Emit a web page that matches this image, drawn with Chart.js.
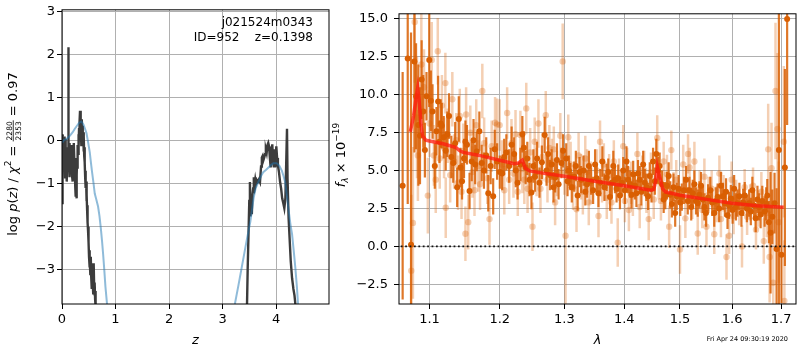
<!DOCTYPE html>
<html>
<head>
<meta charset="utf-8">
<script src="https://cdn.jsdelivr.net/npm/chart.js@4.4.0/dist/chart.umd.min.js"></script>
<style>
  html, body { margin: 0; padding: 0; background: #fff; }
  #wrap { position: relative; width: 800px; height: 350px; overflow: hidden; }
  canvas { position: absolute; top: 0; }
  #pz { left: 0; }
  #spec { left: 325px; }
</style>
</head>
<body>
<div id="wrap">
  <canvas id="pz" width="335" height="350"></canvas>
  <canvas id="spec" width="475" height="350"></canvas>
</div>
<script>
// ---- redshift panel: log p(z) ----
const zTicks = [0, 1, 2, 3, 4];
const logpTicks = [-3, -2, -1, 0, 1, 2, 3];

// noisy p(z) from the fit (null breaks the curve between the two peaks)
const pzZ = [
  0.000, 0.004, 0.008, 0.013, 0.018, 0.023, 0.028, 0.033, 0.038, 0.043,
  0.048, 0.053, 0.058, 0.063, 0.068, 0.073, 0.078, 0.083, 0.088, 0.093,
  0.098, 0.103, 0.108, 0.113, 0.117, 0.121, 0.126, 0.131, 0.136, 0.141,
  0.146, 0.151, 0.157, 0.163, 0.169, 0.175, 0.181, 0.187, 0.193, 0.199,
  0.205, 0.211, 0.217, 0.223, 0.229, 0.235, 0.241, 0.247, 0.253, 0.259,
  0.265, 0.271, 0.277, 0.283, 0.289, 0.295, 0.301, 0.307, 0.313, 0.319,
  0.325, 0.331, 0.337, 0.343, 0.349, 0.355, 0.361, 0.367, 0.373, 0.379,
  0.385, 0.391, 0.397, 0.403, 0.409, 0.415, 0.421, 0.427, 0.433, 0.439,
  0.445, 0.451, 0.457, 0.463, 0.469, 0.475, 0.481, 0.487, 0.493, 0.499,
  0.505, 0.511, 0.517, 0.523, 0.529, 0.535, 0.541, 0.547, 0.553, 0.559,
  0.565, 0.571, 0.577, 0.583, 0.589, 0.595, 0.601, 0.607, 0.613, 0.619,
  0.625, 0.631, 0.640, 0.660,
  2.000,
  3.440, 3.470, 3.500, 3.512, 3.522, 3.535, 3.548, 3.560, 3.572, 3.585,
  3.598, 3.612, 3.625, 3.640, 3.655, 3.680, 3.700, 3.720, 3.735, 3.750,
  3.765, 3.780, 3.795, 3.810, 3.825, 3.840, 3.855, 3.870, 3.885, 3.900,
  3.915, 3.930, 3.945, 3.960, 3.975, 3.990, 4.005, 4.020, 4.035, 4.055,
  4.075, 4.095, 4.115, 4.135, 4.155, 4.175, 4.205, 4.215, 4.235, 4.255,
  4.275, 4.300, 4.325, 4.345, 4.365, 4.390, 4.420
];
const pzLogP = [
  -1.45, -0.30, 0.15, -0.55, 0.12, -0.40, 0.05, -0.70, -0.10, 0.10,
  -0.50, -0.20, -0.85, -0.30, 0.05, -0.60, -0.15, -0.75, -0.40, -0.95,
  -0.55, -0.20, -0.65, -0.30, 2.18, -0.35, -0.70, -0.15, -0.85, -0.45,
  -0.05, -0.60, -0.25, -0.75, -0.10, -0.55, -0.30, -0.80, -0.45, -0.95,
  -0.60, -0.20, -0.50, -0.05, -0.40, -0.85, -0.60, -1.05, -0.70, -1.30,
  -0.95, -1.34, -0.80, -0.40, -0.65, -0.10, -0.30, 0.15, -0.15, 0.30,
  0.05, 0.45, 0.70, 0.30, 0.05, 0.45, -0.10, 0.25, 0.50, 0.10,
  0.35, -0.05, 0.20, -0.25, 0.10, -0.35, -0.15, -0.50, -0.85, -0.70,
  -1.10, -0.95, -1.40, -1.25, -1.60, -1.50, -1.90, -2.10, -2.00, -2.35,
  -2.70, -2.55, -2.95, -2.75, -3.10, -2.80, -2.70, -3.20, -3.00, -3.45,
  -3.10, -2.85, -3.30, -3.55, -3.20, -2.85, -3.40, -3.60, -3.30, -3.70,
  -3.50, -3.85, -4.30, -5.00,
  null,
  -5.00, -3.00, -1.40, -0.96, -1.76, -1.42, -1.71, -1.25, -1.11, -0.85,
  -1.03, -0.90, -1.00, -0.92, -0.96, -0.90, -0.96, -0.60, -0.39, -0.35,
  -0.45, -0.39, -0.31, -0.20, -0.28, -0.10, -0.05, -0.13, -0.40, -0.62,
  -0.35, -0.08, -0.50, -0.62, -0.20, -0.62, -0.13, -0.40, -0.57, -0.73,
  -0.95, -1.11, -1.34, -1.45, -1.57, -1.34, 0.28, -0.88, -1.80, -2.30,
  -2.80, -3.20, -3.45, -3.60, -3.85, -4.40, -5.00
];

// smooth template curve
const fitZ = [
  0.000, 0.040, 0.080, 0.120, 0.160, 0.200, 0.240, 0.280, 0.320, 0.363,
  0.400, 0.430, 0.457, 0.490, 0.519, 0.540, 0.562, 0.590, 0.612, 0.640,
  0.674, 0.700, 0.725, 0.748, 0.768, 0.790, 0.812, 0.843, 0.880, 0.920,
  2.000,
  3.150, 3.234, 3.300, 3.360, 3.450, 3.520, 3.580, 3.620, 3.670, 3.720,
  3.760, 3.810, 3.860, 3.910, 3.950, 4.010, 4.060, 4.110, 4.140, 4.170,
  4.200, 4.230, 4.270, 4.300, 4.330, 4.360, 4.390, 4.410, 4.440, 4.500
];
const fitLogP = [
  -0.05, 0.02, 0.04, 0.08, 0.14, 0.20, 0.28, 0.35, 0.42, 0.45,
  0.38, 0.28, 0.18, -0.05, -0.27, -0.50, -0.73, -1.00, -1.23, -1.36,
  -1.53, -1.75, -2.03, -2.33, -2.63, -3.00, -3.40, -3.82, -4.50, -5.00,
  null,
  -5.00, -3.78, -3.35, -2.94, -2.33, -1.88, -1.34, -1.10, -0.96, -0.82,
  -0.73, -0.68, -0.62, -0.56, -0.52, -0.52, -0.58, -0.70, -0.82, -0.96,
  -1.25, -1.57, -1.95, -2.18, -2.55, -2.94, -3.40, -3.78, -4.30, -5.00
];

// ---- spectrum panel ----
const lamTicks = [1.1, 1.2, 1.3, 1.4, 1.5, 1.6, 1.7];
const fluxTicks = [-2.5, 0, 2.5, 5, 7.5, 10, 12.5, 15];

// binned spectrum (strong points)
const darkLam = [
  1.0640, 1.0707, 1.0751, 1.0796, 1.0818, 1.0849, 1.0871, 1.0893, 1.0915, 1.0937,
  1.0959, 1.0996, 1.1018, 1.1041, 1.1072, 1.1095, 1.1118, 1.1136, 1.1154, 1.1168,
  1.1195, 1.1223, 1.1245, 1.1269, 1.1301, 1.1328, 1.1355, 1.1383, 1.1406, 1.1430,
  1.1452, 1.1480, 1.1500, 1.1522, 1.1559, 1.1590, 1.1616, 1.1640, 1.1663, 1.1700,
  1.1734, 1.1767, 1.1800, 1.1830, 1.1865, 1.1902, 1.1925, 1.1960, 1.2000, 1.2035,
  1.2065, 1.2098, 1.2140, 1.2177, 1.2215, 1.2240, 1.2267, 1.2310, 1.2340, 1.2363,
  1.2390, 1.2416, 1.2450, 1.2480, 1.2510, 1.2535, 1.2567, 1.2604, 1.2642, 1.2686,
  1.2715, 1.2740, 1.2770, 1.2796, 1.2825, 1.2851, 1.2880, 1.2906, 1.2951, 1.2979,
  1.3029, 1.3050, 1.3073, 1.3095, 1.3119, 1.3158, 1.3185, 1.3215, 1.3245, 1.3272,
  1.3311, 1.3340, 1.3369, 1.3400, 1.3437, 1.3470, 1.3503, 1.3530, 1.3559, 1.3590,
  1.3625, 1.3660, 1.3697, 1.3725, 1.3755, 1.3785, 1.3811, 1.3840, 1.3867, 1.3895,
  1.3925, 1.3955, 1.3982, 1.4010, 1.4038, 1.4065, 1.4097, 1.4125, 1.4155, 1.4185,
  1.4212, 1.4240, 1.4272, 1.4300, 1.4331, 1.4360, 1.4388, 1.4420, 1.4449, 1.4480,
  1.4508, 1.4540, 1.4566, 1.4600, 1.4627, 1.4669, 1.4700, 1.4729, 1.4760, 1.4791,
  1.4820, 1.4850, 1.4880, 1.4911, 1.4940, 1.4974, 1.5005, 1.5034, 1.5075, 1.5114,
  1.5145, 1.5177, 1.5210, 1.5239, 1.5270, 1.5300, 1.5333, 1.5365, 1.5396, 1.5430,
  1.5460, 1.5490, 1.5530, 1.5574, 1.5610, 1.5650, 1.5680, 1.5715, 1.5745, 1.5780,
  1.5820, 1.5857, 1.5880, 1.5909, 1.5940, 1.5975, 1.6010, 1.6040, 1.6075, 1.6106,
  1.6145, 1.6186, 1.6220, 1.6252, 1.6295, 1.6340, 1.6375, 1.6406, 1.6440, 1.6473,
  1.6510, 1.6542, 1.6575, 1.6609, 1.6657, 1.6690, 1.6712, 1.6745, 1.6780, 1.6816,
  1.6863, 1.6905, 1.6954, 1.7008, 1.7080, 1.7128
];
const darkFlux = [
  4.0, 12.4, 0.1, 12.2, 9.9, 8.0, 7.3, 11.0, 8.9, 6.35,
  9.9, 12.3, 9.6, 8.9, 5.3, 7.6, 9.55, 6.9, 8.1, 7.95,
  7.2, 6.3, 7.4, 8.6, 5.9, 5.5, 6.8, 3.9, 8.4, 5.2,
  4.3, 5.8, 6.9, 6.7, 3.65, 5.6, 7.0, 5.4, 6.25, 7.6,
  5.5, 5.0, 6.0, 3.5, 5.3, 3.3, 6.4, 5.6, 4.9, 4.8,
  5.9, 6.2, 5.3, 6.7, 6.1, 5.0, 4.2, 5.4, 7.4, 6.5,
  5.2, 5.8, 4.4, 3.55, 5.3, 4.6, 5.8, 4.2, 5.55, 7.35,
  5.0, 6.1, 4.7, 5.4, 3.9, 4.55, 5.7, 4.1, 5.5, 6.3,
  5.8, 4.3, 5.0, 4.6, 3.9, 4.6, 5.3, 3.35, 4.9, 4.4,
  5.0, 3.6, 4.1, 5.3, 4.3, 3.7, 5.4, 4.5, 3.5, 4.2,
  5.6, 3.9, 4.55, 4.9, 3.25, 4.2, 5.3, 4.4, 3.8, 4.5,
  3.35, 4.2, 5.0, 3.7, 5.6, 4.4, 4.1, 3.4, 4.75, 4.0,
  3.5, 4.8, 4.4, 3.6, 5.4, 4.2, 3.9, 3.3, 4.65, 3.8,
  5.6, 4.3, 6.1, 5.0, 5.3, 4.1, 3.1, 3.35, 4.0, 4.65,
  3.4, 2.8, 3.9, 2.2, 3.3, 3.8, 2.9, 3.25, 3.7, 4.4,
  3.0, 3.7, 2.6, 3.5, 4.1, 3.0, 2.85, 3.4, 4.0, 3.1,
  2.6, 2.2, 3.2, 3.7, 2.9, 2.2, 3.0, 3.25, 2.5, 4.0,
  3.3, 2.85, 3.6, 2.05, 2.7, 3.15, 2.4, 3.8, 2.6, 2.85,
  3.3, 2.2, 2.9, 3.35, 2.5, 2.85, 2.3, 3.7, 2.7, 1.85,
  3.1, 2.6, 2.1, 3.0, 2.3, 2.8, 3.35, 1.6, 0.9, 1.95,
  2.85, -0.17, 6.35, -0.55, 5.2, 15.0
];
const darkErr = [
  7.5, 9.6, 14.0, 6.0, 3.5, 4.0, 3.2, 2.6, 2.4, 1.8,
  1.6, 3.1, 2.0, 1.8, 1.5, 1.6, 1.7, 1.4, 1.6, 1.5,
  1.4, 1.3, 1.5, 1.5, 1.4, 1.3, 1.4, 1.3, 1.5, 1.3,
  1.2, 1.3, 1.4, 1.3, 1.2, 1.3, 1.4, 1.3, 1.3, 1.3,
  1.2, 1.2, 1.2, 1.2, 1.2, 1.2, 1.3, 1.2, 1.1, 1.1,
  1.2, 1.2, 1.1, 1.2, 1.1, 1.1, 1.1, 1.1, 1.2, 1.1,
  1.1, 1.1, 1.1, 1.1, 1.1, 1.0, 1.1, 1.0, 1.1, 1.2,
  1.0, 1.1, 1.0, 1.0, 1.0, 1.0, 1.1, 1.0, 1.0, 1.1,
  1.0, 1.0, 1.0, 0.9, 1.0, 1.0, 1.0, 1.0, 1.0, 0.9,
  1.0, 0.9, 0.9, 1.0, 0.9, 0.9, 1.0, 0.9, 0.9, 0.9,
  1.0, 0.9, 0.9, 0.9, 0.9, 0.9, 1.0, 0.9, 0.9, 0.9,
  0.9, 0.9, 0.9, 0.9, 1.0, 0.9, 0.9, 0.9, 0.9, 0.9,
  0.9, 0.9, 0.9, 0.9, 0.9, 0.9, 0.9, 0.9, 0.9, 0.9,
  0.9, 0.9, 1.0, 0.9, 0.9, 0.9, 0.9, 0.9, 0.9, 0.9,
  0.9, 0.9, 0.9, 0.9, 0.9, 0.9, 0.9, 0.9, 0.9, 0.9,
  0.9, 0.9, 0.9, 0.9, 0.9, 0.9, 0.9, 0.9, 0.9, 0.9,
  0.9, 0.9, 0.9, 0.9, 0.9, 0.9, 0.9, 0.9, 0.9, 0.9,
  0.9, 0.9, 0.9, 0.9, 0.9, 0.9, 0.9, 0.9, 0.9, 0.9,
  0.9, 0.9, 0.9, 0.9, 0.9, 0.9, 0.9, 0.9, 0.9, 0.9,
  0.9, 0.9, 0.9, 1.0, 1.0, 1.1, 1.1, 1.4, 4.0, 1.8,
  2.0, 4.0, 13.0, 3.2, 6.5, 7.0
];

// lower-weight points
const lightLam = [
  1.0754, 1.0776, 1.0800, 1.0830, 1.0843, 1.0889, 1.0925, 1.0977, 1.1000, 1.1030,
  1.1060, 1.1085, 1.1113, 1.1140, 1.1170, 1.1200, 1.1218, 1.1223, 1.1250, 1.1285,
  1.1315, 1.1340, 1.1370, 1.1395, 1.1420, 1.1445, 1.1470, 1.1500, 1.1510, 1.1540,
  1.1570, 1.1600, 1.1630, 1.1655, 1.1685, 1.1710, 1.1743, 1.1770, 1.1815, 1.1848,
  1.1880, 1.1930, 1.1959, 1.1998, 1.2030, 1.2067, 1.2110, 1.2140, 1.2175, 1.2205,
  1.2236, 1.2270, 1.2310, 1.2340, 1.2370, 1.2400, 1.2420, 1.2460, 1.2496, 1.2530,
  1.2560, 1.2588, 1.2620, 1.2650, 1.2703, 1.2730, 1.2760, 1.2800, 1.2830, 1.2851,
  1.2880, 1.2934, 1.2972, 1.3000, 1.3018, 1.3062, 1.3100, 1.3140, 1.3196, 1.3230,
  1.3270, 1.3300, 1.3340, 1.3370, 1.3398, 1.3430, 1.3530, 1.3560, 1.3586, 1.3620,
  1.3650, 1.3700, 1.3740, 1.3780, 1.3820, 1.3887, 1.3910, 1.3982, 1.4010, 1.4050,
  1.4080, 1.4120, 1.4150, 1.4229, 1.4270, 1.4310, 1.4350, 1.4390, 1.4430, 1.4470,
  1.4520, 1.4583, 1.4610, 1.4650, 1.4700, 1.4760, 1.4800, 1.4840, 1.4880, 1.4930,
  1.5000, 1.5060, 1.5100, 1.5150, 1.5180, 1.5230, 1.5270, 1.5333, 1.5370, 1.5420,
  1.5460, 1.5500, 1.5540, 1.5600, 1.5650, 1.5700, 1.5750, 1.5780, 1.5830, 1.5889,
  1.5940, 1.5990, 1.6030, 1.6080, 1.6140, 1.6197, 1.6250, 1.6300, 1.6360, 1.6420,
  1.6480, 1.6530, 1.6590, 1.6640, 1.6700, 1.6731, 1.6760, 1.6800, 1.6836, 1.6883,
  1.6925, 1.6950, 1.7058, 1.7070
];
const lightFlux = [
  -1.6, 1.55, 14.8, 8.5, 6.0, 12.0, 10.5, 3.35, 8.1, 12.3,
  6.0, 4.4, 12.87, 5.8, 9.3, 6.5, 10.77, 2.55, 7.3, 4.7,
  9.7, 5.6, 7.0, 4.2, 8.6, 3.6, 6.3, 0.83, 8.7, 1.6,
  7.5, 4.9, 3.7, 8.0, 5.3, 4.1, 10.25, 6.8, 4.5, 1.8,
  6.6, 8.15, 8.05, 8.0, 5.4, 3.7, 8.8, 4.4, 6.8, 4.8,
  7.4, 3.6, 7.35, 5.1, 4.4, 9.1, 3.8, 6.2, 1.3, 6.9,
  4.9, 8.1, 3.8, 5.9, 8.65, 4.4, 6.5, 5.6, 6.4, 2.9,
  4.8, 7.3, 12.2, 4.9, 0.7, 7.2, 5.4, 3.9, 2.45, 6.0,
  4.6, 3.6, 5.8, 4.9, 2.9, 4.2, 5.0, 2.0, 6.9, 4.3,
  5.4, 3.2, 4.7, 2.9, 5.6, 0.25, 4.4, 6.6, 3.0, 5.1,
  2.4, 4.2, 3.4, 6.1, 2.6, 4.7, 5.0, 3.5, 1.8, 4.9,
  3.1, 7.15, 4.4, 3.0, 5.6, 4.75, 1.3, 6.35, 3.6, 4.4,
  -0.2, 5.4, 1.85, 6.1, 5.2, 3.0, 5.6, 0.85, 3.8, 2.4,
  4.6, 1.3, 3.4, 3.8, 0.8, 2.8, 4.8, 1.8, 3.5, -0.7,
  0.7, 4.4, 2.0, 3.2, 2.6, 0.0, 3.9, 1.95, 2.9, 4.0,
  1.1, 2.5, 3.6, 0.35, 2.2, 6.4, -0.7, 5.15, -2.4, 10.25,
  7.75, 1.6, 6.9, -3.6
];
const lightErr = [
  5.0, 5.0, 4.0, 4.0, 3.0, 3.5, 2.5, 2.5, 2.2, 2.5,
  2.0, 2.2, 2.2, 2.0, 2.0, 2.0, 2.0, 2.0, 1.8, 1.8,
  1.8, 1.8, 1.8, 1.8, 1.8, 1.8, 1.8, 1.8, 1.8, 1.8,
  1.8, 1.7, 1.7, 1.7, 1.7, 1.7, 1.8, 1.7, 1.7, 1.7,
  1.7, 1.7, 1.7, 1.7, 1.6, 1.6, 1.7, 1.6, 1.6, 1.6,
  1.6, 1.6, 1.6, 1.6, 1.6, 1.7, 1.6, 1.6, 1.6, 1.6,
  1.6, 1.6, 1.6, 1.6, 1.6, 1.5, 1.5, 1.5, 1.5, 1.5,
  1.5, 1.5, 2.5, 1.5, 4.5, 1.5, 1.5, 1.5, 1.5, 1.5,
  1.5, 1.5, 1.5, 1.5, 1.5, 1.4, 1.4, 1.4, 1.4, 1.4,
  1.4, 1.4, 1.4, 1.4, 1.4, 1.6, 1.4, 1.4, 1.4, 1.4,
  1.4, 1.4, 1.4, 1.4, 1.4, 1.3, 1.3, 1.3, 1.4, 1.3,
  1.3, 1.5, 1.3, 1.3, 1.3, 1.3, 1.4, 1.3, 1.3, 1.3,
  1.6, 1.3, 1.3, 1.3, 1.3, 1.2, 1.3, 1.4, 1.2, 1.2,
  1.2, 1.3, 1.2, 1.2, 1.3, 1.2, 1.2, 1.2, 1.2, 1.5,
  1.2, 1.2, 1.2, 1.2, 1.2, 1.4, 1.2, 1.2, 1.2, 1.2,
  1.3, 1.2, 1.3, 1.5, 1.6, 3.0, 3.0, 3.0, 3.5, 4.5,
  5.0, 4.0, 5.0, 4.0
];

// best-fit template
const modelLam = [
  1.0741, 1.0785, 1.0825, 1.0840, 1.0860, 1.0885, 1.0906, 1.0950, 1.1000, 1.1200,
  1.1367, 1.1420, 1.1470, 1.1700, 1.2000, 1.2214, 1.2280, 1.2338, 1.2389, 1.2450,
  1.2700, 1.3000, 1.3500, 1.4000, 1.4466, 1.4520, 1.4555, 1.4585, 1.4620, 1.4680,
  1.4730, 1.5000, 1.5500, 1.6000, 1.6500, 1.7056
];
const modelFlux = [
  7.56, 8.6, 10.0, 10.45, 9.6, 8.0, 7.3, 7.0, 6.95, 6.75,
  6.51, 6.3, 6.2, 6.0, 5.68, 5.45, 5.5, 5.68, 5.15, 4.98,
  4.8, 4.63, 4.3, 4.0, 3.7, 3.75, 4.3, 5.25, 4.7, 3.8,
  3.6, 3.37, 3.1, 2.84, 2.68, 2.58
];

const zeroLam = [1.05, 1.75];
const zeroFlux = [0, 0];

const FONT = "'DejaVu Sans'";
const toPoints = (xs, ys) => xs.map((x, i) => ({ x: x, y: ys[i] }));
const minus = s => String(s).replace('-', '\u2212');

// box around the plot area
const frame = {
  id: 'frame',
  afterDraw(chart) {
    const { ctx, chartArea: a } = chart;
    ctx.save();
    ctx.strokeStyle = '#000';
    ctx.lineWidth = 1;
    ctx.strokeRect(a.left, a.top, a.right - a.left, a.bottom - a.top);
    ctx.restore();
  }
};

// vertical error bars, drawn just under each dataset's markers
const errorBars = {
  id: 'errorBars',
  beforeDatasetDraw(chart, args) {
    const ds = chart.data.datasets[args.index];
    if (!ds.errs) return;
    const { ctx, chartArea: a, scales: { x, y } } = chart;
    ctx.save();
    ctx.beginPath();
    ctx.rect(a.left, a.top, a.right - a.left, a.bottom - a.top);
    ctx.clip();
    ctx.strokeStyle = ds.barColor;
    ctx.lineWidth = ds.barWidth;
    ds.data.forEach((p, i) => {
      const px = x.getPixelForValue(p.x);
      ctx.beginPath();
      ctx.moveTo(px, y.getPixelForValue(p.y - ds.errs[i]));
      ctx.lineTo(px, y.getPixelForValue(p.y + ds.errs[i]));
      ctx.stroke();
    });
    ctx.restore();
  }
};

// draws a list of text runs one after another; returns total width
function runs(ctx, parts, x0, base, draw) {
  let x = x0;
  parts.forEach(p => {
    ctx.font = p.font;
    if (p.frac) {
      const w = Math.max(ctx.measureText(p.frac[0]).width, ctx.measureText(p.frac[1]).width);
      if (draw) {
        ctx.textAlign = 'center';
        ctx.fillText(p.frac[0], x + w / 2 + 1, base - 5);
        ctx.fillText(p.frac[1], x + w / 2 + 1, base + 4);
        ctx.fillRect(x, base - 4.2, w + 2, 0.8);
        ctx.textAlign = 'left';
      }
      x += w + 2;
    } else {
      if (draw) ctx.fillText(p.t, x, base + (p.dy || 0));
      x += ctx.measureText(p.t).width;
    }
  });
  return x - x0;
}

function rotatedTitle(ctx, parts, bx, cy) {
  ctx.save();
  ctx.fillStyle = '#000';
  ctx.textBaseline = 'alphabetic';
  ctx.textAlign = 'left';
  const w = runs(ctx, parts, 0, 0, false);
  ctx.translate(bx, cy);
  ctx.rotate(-Math.PI / 2);
  runs(ctx, parts, -w / 2, 0, true);
  ctx.restore();
}

const R = '13px ' + FONT, I = 'italic 13px ' + FONT, S = '9px ' + FONT, SI = 'italic 9px ' + FONT;

const pzText = {
  id: 'pzText',
  afterDraw(chart) {
    const ctx = chart.ctx;
    ctx.save();
    ctx.fillStyle = '#000';
    ctx.font = '12px ' + FONT;
    ctx.textAlign = 'right';
    ctx.fillText('j021524m0343', 313, 26);
    ctx.fillText('ID=952    z=0.1398', 313, 41);
    ctx.restore();
    rotatedTitle(ctx, [
      { t: 'log ', font: R }, { t: 'p', font: I }, { t: '(', font: R }, { t: 'z', font: I },
      { t: ')', font: R }, { t: ' / ', font: R }, { t: '\u03c7', font: I },
      { t: '2', font: S, dy: -6 }, { t: ' = ', font: R },
      { frac: ['2280', '2353'], font: '7.5px ' + FONT }, { t: ' = 0.97', font: R }
    ], 17, 154);
  }
};

const specText = {
  id: 'specText',
  afterDraw(chart) {
    const ctx = chart.ctx;
    rotatedTitle(ctx, [
      { t: 'f', font: I }, { t: '\u03bb', font: SI, dy: 3 }, { t: ' \u00d7 10', font: R },
      { t: '\u221219', font: S, dy: -6 }
    ], 20, 155);
    ctx.save();
    ctx.fillStyle = '#000';
    ctx.font = '6.5px ' + FONT;
    ctx.textAlign = 'right';
    ctx.fillText('Fri Apr 24 09:30:19 2020', 463, 341);
    ctx.restore();
  }
};

function axis(extra) {
  return Object.assign({
    border: { display: false },
    grid: { color: '#b0b0b0', lineWidth: 1, tickColor: '#000', tickLength: 5, tickWidth: 1 },
    ticks: { color: '#000', font: { family: FONT, size: 13 }, maxRotation: 0, autoSkip: false }
  }, extra);
}

const common = {
  animation: false,
  responsive: false,
  devicePixelRatio: 1,
  plugins: { legend: { display: false }, tooltip: { enabled: false } }
};

new Chart(document.getElementById('pz'), {
  type: 'scatter',
  data: {
    datasets: [
      { data: toPoints(fitZ, fitLogP), showLine: true, borderColor: 'rgba(31,119,180,0.5)',
        borderWidth: 2, pointRadius: 0, order: 0, clip: 0, spanGaps: false },
      { data: toPoints(pzZ, pzLogP), showLine: true, borderColor: '#3c3c3c',
        borderWidth: 2.4, pointRadius: 0, order: 1, clip: 0, spanGaps: false }
    ]
  },
  options: Object.assign({}, common, {
    layout: { padding: { top: 5, right: 6, left: 0, bottom: 0 } },
    scales: {
      x: axis({
        type: 'linear', min: 0, max: 4.99,
        afterBuildTicks: s => { s.ticks = zTicks.map(v => ({ value: v })); },
        afterFit: s => { s.height = 46; },
        ticks: { color: '#000', font: { family: FONT, size: 13 }, maxRotation: 0, autoSkip: false, padding: 3,
                 callback: v => String(v) },
        title: { display: true, text: 'z', color: '#000', font: { family: FONT, size: 13, style: 'italic' },
                 padding: { top: 0, bottom: 2 } }
      }),
      y: axis({
        type: 'linear', min: -3.8, max: 3.05,
        afterBuildTicks: s => { s.ticks = logpTicks.map(v => ({ value: v })); },
        afterFit: s => { s.width = 62; },
        ticks: { color: '#000', font: { family: FONT, size: 13 }, padding: 2,
                 callback: v => minus(v) }
      })
    }
  }),
  plugins: [frame, pzText]
});

new Chart(document.getElementById('spec'), {
  type: 'scatter',
  data: {
    datasets: [
      { data: toPoints(modelLam, modelFlux), showLine: true, borderColor: 'rgba(255,25,15,0.75)',
        borderWidth: 3.5, pointRadius: 0, order: 0, clip: 0 },
      { data: toPoints(zeroLam, zeroFlux), showLine: true, borderColor: '#111', borderWidth: 1.8,
        borderDash: [1.8, 2.6], pointRadius: 0, order: 1, clip: 0 },
      { data: toPoints(darkLam, darkFlux), errs: darkErr, barColor: 'rgba(217,95,2,0.85)', barWidth: 2.2,
        pointRadius: 3, pointBackgroundColor: '#d95f02', pointBorderWidth: 0, order: 2, clip: 0 },
      { data: toPoints(lightLam, lightFlux), errs: lightErr, barColor: 'rgba(217,95,2,0.3)', barWidth: 2.5,
        pointRadius: 3.2, pointBackgroundColor: 'rgba(217,95,2,0.3)', pointBorderWidth: 0, order: 3, clip: 0 }
    ]
  },
  options: Object.assign({}, common, {
    layout: { padding: { top: 5, right: 1, left: 0, bottom: 0 } },
    scales: {
      x: axis({
        type: 'logarithmic', min: 1.0592, max: 1.7317,
        afterBuildTicks: s => { s.ticks = lamTicks.map(v => ({ value: v })); },
        afterFit: s => { s.height = 46; },
        ticks: { color: '#000', font: { family: FONT, size: 13 }, maxRotation: 0, autoSkip: false, padding: 3,
                 callback: v => Number(v).toFixed(1) },
        title: { display: true, text: '\u03bb', color: '#000', font: { family: FONT, size: 13, style: 'italic' },
                 padding: { top: 0, bottom: 2 } }
      }),
      y: axis({
        type: 'linear', min: -3.8, max: 15.34,
        afterBuildTicks: s => { s.ticks = fluxTicks.map(v => ({ value: v })); },
        afterFit: s => { s.width = 74; },
        ticks: { color: '#000', font: { family: FONT, size: 13 }, padding: 6,
                 callback: v => minus(Number(v).toFixed(1)) }
      })
    }
  }),
  plugins: [frame, errorBars, specText]
});
</script>
</body>
</html>
